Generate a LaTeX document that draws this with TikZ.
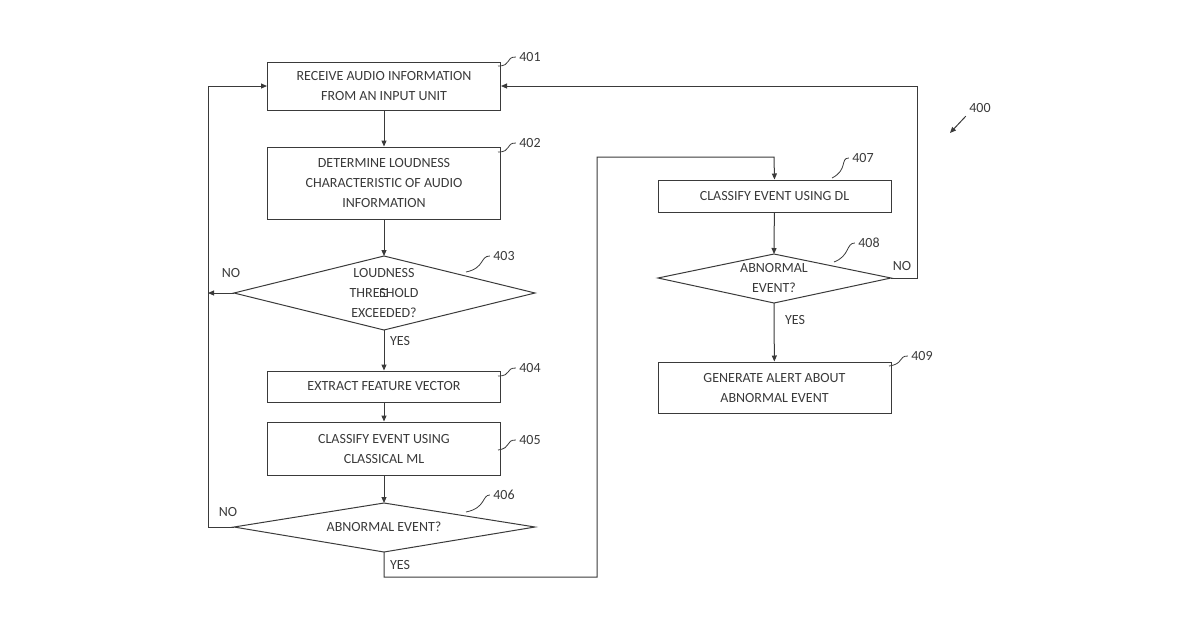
\documentclass[tikz,border=0pt]{standalone}
\usepackage{fontspec}
\setmainfont{Carlito}
\usetikzlibrary{shapes.geometric,arrows.meta}
\definecolor{ink}{HTML}{3A3A3A}
\tikzset{
  stepbox/.style={draw=ink,line width=1pt,minimum width=233pt,align=center,inner sep=2pt},
  test/.style={draw=ink,line width=1pt,diamond,aspect=3,align=center,inner sep=0pt},
  flow/.style={draw=ink,line width=1pt,-{Triangle[length=6pt,width=5pt]}},
  tag/.style={font=\fontsize{14}{16}\selectfont},
  lead/.style={draw=ink,line width=0.8pt}
}
\begin{document}
\begin{tikzpicture}[x=1pt,y=-1pt,font=\fontsize{14}{20}\selectfont,text=ink]
  \useasboundingbox (0,0) rectangle (1200,630);
  % boxes
  \node[stepbox,minimum height=48pt] (recv) at (384,86) {RECEIVE AUDIO INFORMATION\\FROM AN INPUT UNIT};
  \node[stepbox,minimum height=72pt] (loud) at (384,183) {DETERMINE LOUDNESS\\CHARACTERISTIC OF AUDIO\\INFORMATION};
  \node[draw=ink,line width=1pt,align=center] (thr) at (384,293) {}; 
  \path[draw=ink,line width=1pt] (234,293) coordinate (thrW) -- (384,256) coordinate (thrN) -- (535,293) -- (384,330) coordinate (thrS) -- cycle;
  \node[align=center] at (384,293) {LOUDNESS\\THRESHOLD\\EXCEEDED?};
  \node[stepbox,minimum height=31pt] (feat) at (384,386.5) {EXTRACT FEATURE VECTOR};
  \node[stepbox,minimum height=53pt] (cml) at (384,448.5) {CLASSIFY EVENT USING\\CLASSICAL ML};
  \path[draw=ink,line width=1pt] (234,527) coordinate (evW) -- (384,503) coordinate (evN) -- (535,527) -- (384,552) coordinate (evS) -- cycle;
  \node at (384,527) {ABNORMAL EVENT?};
  \node[stepbox,minimum height=32pt] (dl) at (774.5,196) {CLASSIFY EVENT USING DL};
  \path[draw=ink,line width=1pt] (658,278) coordinate (abW) -- (774,254) coordinate (abN) -- (891,278) coordinate (abE) -- (774,303) coordinate (abS) -- cycle;
  \node[align=center] at (774,278) {ABNORMAL\\EVENT?};
  \node[stepbox,minimum height=51pt] (alert) at (774.5,387.5) {GENERATE ALERT ABOUT\\ABNORMAL EVENT};
  % connectors
  \draw[flow] (recv) -- (loud);
  \draw[flow] (loud) -- (thrN);
  \draw[flow] (thrS) -- (feat);
  \draw[flow] (feat) -- (cml);
  \draw[flow] (cml) -- (evN);
  \draw[flow] (thrW) -- (208,293);
  \draw[flow] (evW) -- (208,527) -- (208,86) -- (recv.west);
  \draw[flow] (evS) -- (384,577) -- (597,577) -- (597,157) -- (774,157) -- (dl.north);
  \draw[flow] (dl) -- (abN);
  \draw[flow] (abS) -- (alert);
  \draw[flow] (abE) -- (917,278) -- (917,86) -- (recv.east);
  \node at (231,273) {NO};
  \node at (228,512) {NO};
  \node at (400,565) {YES};
  \node at (400,341) {YES};
  \node at (795,320) {YES};
  \node at (902,266) {NO};
  % reference numbers
  \node[tag] (n401) at (530,57) {401};
  \draw[lead] (n401.west) .. controls (505,57) and (512,66) .. (498,66);
  \node[tag] (n402) at (530,143) {402};
  \draw[lead] (n402.west) .. controls (505,143) and (512,152) .. (498,152);
  \node[tag] (n403) at (504,256) {403};
  \draw[lead] (n403.west) .. controls (480,256) and (485,268) .. (466,272);
  \node[tag] (n404) at (530,368) {404};
  \draw[lead] (n404.west) .. controls (505,368) and (512,376) .. (498,376);
  \node[tag] (n405) at (530,440) {405};
  \draw[lead] (n405.west) .. controls (505,440) and (512,448) .. (498,450);
  \node[tag] (n406) at (504,495) {406};
  \draw[lead] (n406.west) .. controls (482,495) and (486,508) .. (466,512);
  \node[tag] (n407) at (863,158) {407};
  \draw[lead] (n407.west) .. controls (840,158) and (848,170) .. (832,178);
  \node[tag] (n408) at (869,243) {408};
  \draw[lead] (n408.west) .. controls (846,243) and (850,256) .. (834,262);
  \node[tag] (n409) at (922,356) {409};
  \draw[lead] (n409.west) .. controls (898,356) and (904,364) .. (889,366);
  \node[tag] (n400) at (980,108) {400};
  \draw[flow] (n400.south west) -- (950,133);
\end{tikzpicture}
\end{document}
